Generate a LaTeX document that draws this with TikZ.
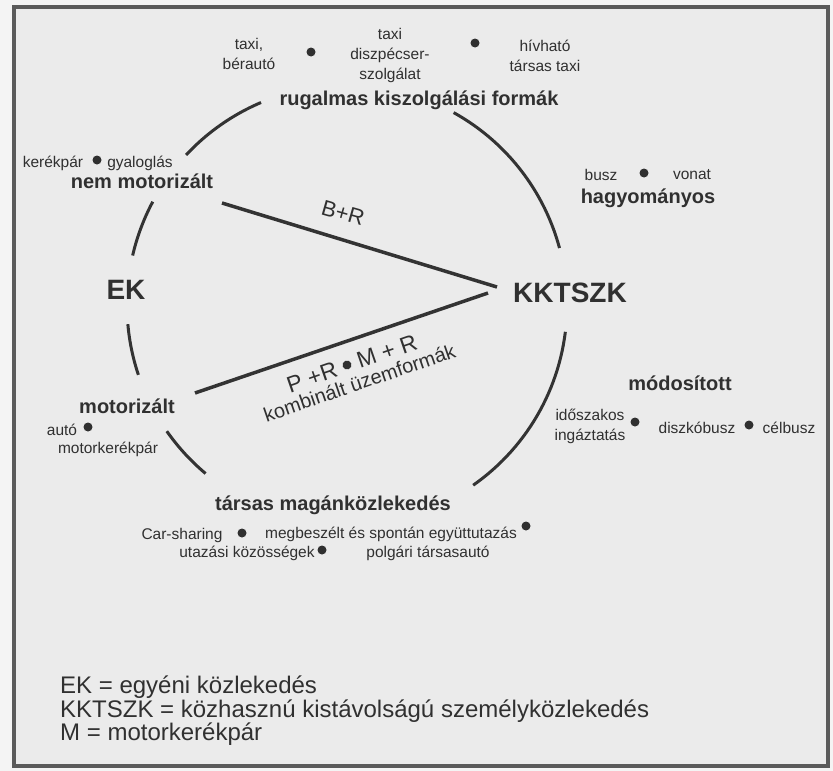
\documentclass[tikz,border=0pt]{standalone}
\usepackage{fontspec}
\setmainfont{Liberation Sans}
\usetikzlibrary{positioning}
\definecolor{ScanInk}{HTML}{303030}
\definecolor{ScanLine}{HTML}{333333}
\definecolor{ScanPaper}{HTML}{EBEBEB}
\definecolor{ScanMargin}{HTML}{F4F4F4}
\definecolor{ScanFrame}{HTML}{5A5A5A}

\begin{document}
\begin{tikzpicture}[x=1pt, y=-1pt,
    lbl/.style={text=ScanInk, inner sep=0pt, align=center, font=\fontsize{15.5}{20}\selectfont},
    head/.style={text=ScanInk, inner sep=0pt, font=\bfseries\fontsize{20}{24}\selectfont},
    big/.style={text=ScanInk, inner sep=0pt, font=\bfseries\fontsize{28}{32}\selectfont},
    legend/.style={text=ScanInk, inner sep=0pt, anchor=base west, font=\fontsize{24}{26}\selectfont},
    dot/.style={circle, fill=ScanInk, inner sep=0pt, minimum size=9pt},
    ring/.style={draw=ScanLine, line width=3pt},
    spoke/.style={draw=ScanLine, line width=3.5pt}]
  \useasboundingbox (0,0) rectangle (833,771);
  \fill[ScanMargin] (0,0) rectangle (833,771);
  \draw[ScanFrame, line width=4pt, fill=ScanPaper] (13.5,6.5) rectangle (828,766);

  % circle pieces between the groups
  \foreach \a/\b in {113/137, 15/61, -55/-7, 215/230, 185/198.5, 152/167}
    \draw[ring] plot[domain=\a:\b, samples=30] ({347+220*cos(\x)},{305-220*sin(\x)});

  % main poles
  \node[big] (ek) at (126,290) {EK};
  \node[big] (kktszk) at (570,293) {KKTSZK};
  \coordinate (br-a) at (222,203);
  \coordinate (br-b) at (497,287);
  \coordinate (pr-a) at (195,393);
  \coordinate (pr-b) at (488,293);
  \draw[spoke] (br-a) -- (br-b);
  \draw[spoke] (pr-a) -- (pr-b);
  \node[lbl, font=\fontsize{22}{26}\selectfont, rotate=-16] (br) at (343,213) {B+R};

  % rugalmas kiszolgalasi formak
  \node[lbl] (taxi1) at (249,54) {taxi,\\bérautó};
  \node[dot] (d1) at (311,52) {};
  \node[lbl] (taxi2) at (390,55) {taxi\\diszpécser-\\szolgálat};
  \node[dot] (d2) at (475,43) {};
  \node[lbl] (hiv) at (545,56) {hívható\\társas taxi};
  \node[head] (rug) at (419,100) {rugalmas kiszolgálási formák};

  % nem motorizalt
  \node[lbl] (kerek) at (53,163) {kerékpár};
  \node[dot] (d3) at (97,160) {};
  \node[lbl] (gyalog) at (140,163) {gyaloglás};
  \node[head] (nemmot) at (142,181) {nem motorizált};

  % motorizalt
  \node[head] (mot) at (127,406) {motorizált};
  \node[lbl] (auto) at (62,430) {autó};
  \node[dot] (d4) at (88,427) {};
  \node[lbl] (motker) at (108,449) {motorkerékpár};

  % kombinalt uzemformak
  \begin{scope}[shift={(347,365)}, rotate=19, transform shape]
    \node[dot] (d5) at (0,0) {};
    \node[lbl, font=\fontsize{23}{27}\selectfont, anchor=base east] (pr) at (-11,8) {P +R};
    \node[lbl, font=\fontsize{23}{27}\selectfont, anchor=base west] (mr) at (11,8) {M + R};
    \node[lbl, font=\fontsize{20}{24}\selectfont, anchor=base] (komb) at (6,28) {kombinált üzemformák};
  \end{scope}

  % hagyomanyos
  \node[lbl] (busz) at (601,175) {busz};
  \node[dot] (d6) at (644,173) {};
  \node[lbl] (vonat) at (692,175) {vonat};
  \node[head] (hagy) at (648,198) {hagyományos};

  % modositott
  \node[head] (mod) at (680,383) {módosított};
  \node[lbl] (idosz) at (590,426) {időszakos\\ingáztatás};
  \node[dot] (d7) at (635,422) {};
  \node[lbl] (diszko) at (697,428) {diszkóbusz};
  \node[dot] (d8) at (749,425) {};
  \node[lbl] (cel) at (789,428) {célbusz};

  % tarsas magankozlekedes
  \node[head] (tarsas) at (333,505) {társas magánközlekedés};
  \node[lbl] (car) at (182,535) {Car-sharing};
  \node[dot] (d9) at (242,533) {};
  \node[lbl] (megb) at (391,534) {megbeszélt és spontán együttutazás};
  \node[dot] (d10) at (526,526) {};
  \node[lbl] (utaz) at (247,553) {utazási közösségek};
  \node[dot] (d11) at (322,550) {};
  \node[lbl] (polg) at (428,553) {polgári társasautó};

  % legend
  \node[legend] (l1) at (60,693) {EK = egyéni közlekedés};
  \node[legend] (l2) at (60,717) {KKTSZK = közhasznú kistávolságú személyközlekedés};
  \node[legend] (l3) at (60,740) {M = motorkerékpár};
\end{tikzpicture}
\end{document}
